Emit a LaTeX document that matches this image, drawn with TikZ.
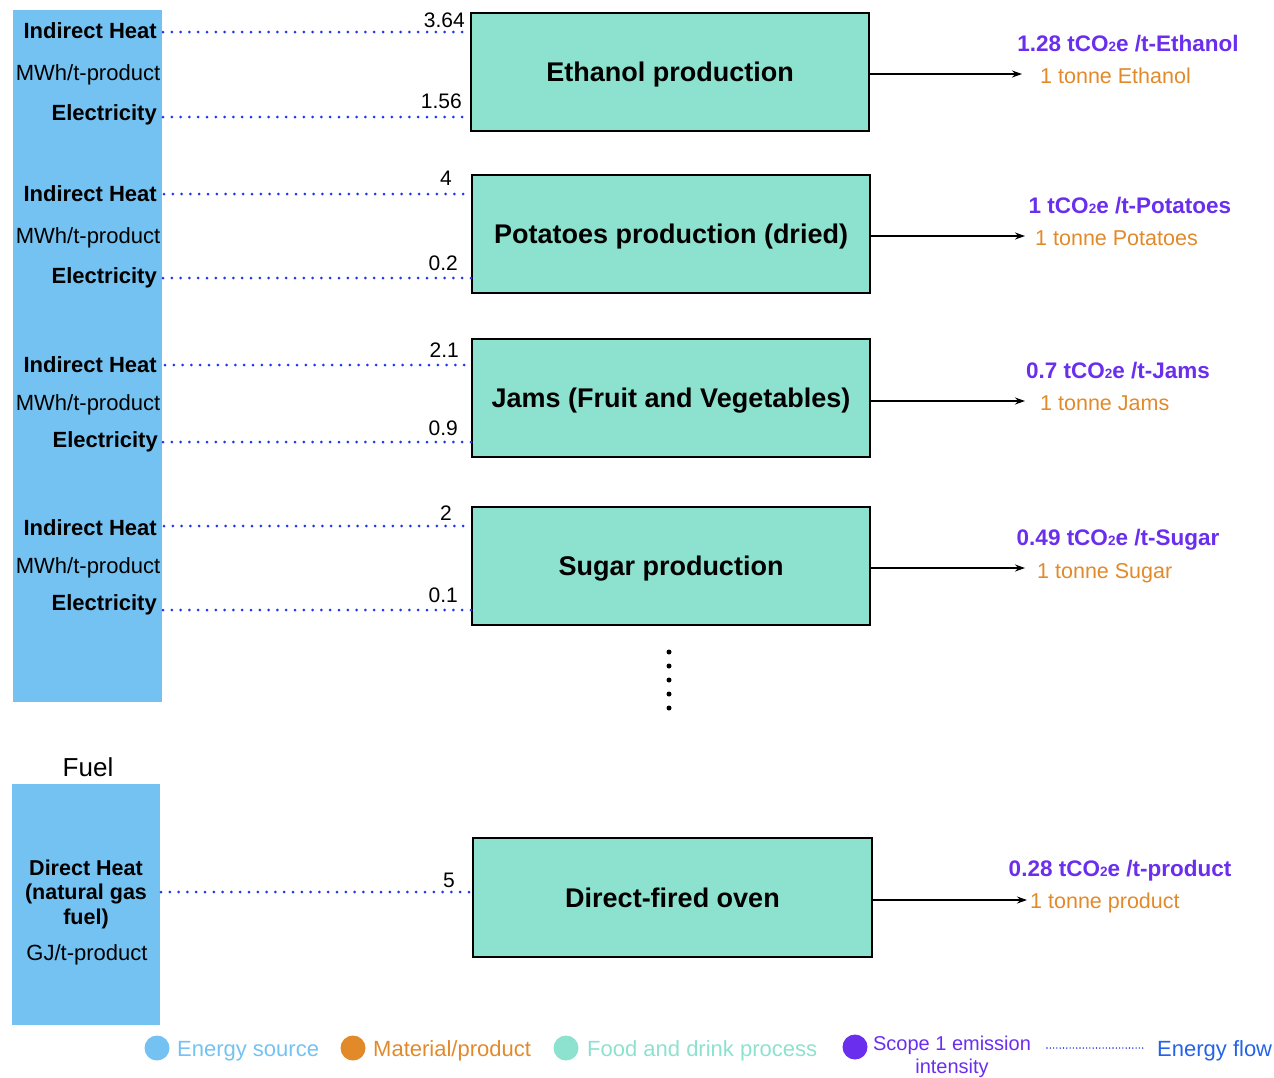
\documentclass[tikz,border=0pt]{standalone}
\usepackage{fontspec}
\setmainfont{Liberation Sans}
\usetikzlibrary{arrows.meta}
\definecolor{srcblue}{HTML}{74C2F2}
\definecolor{proc}{HTML}{8DE1CF}
\definecolor{purp}{HTML}{6A2EEE}
\definecolor{orng}{HTML}{E2892A}
\definecolor{flowblue}{HTML}{1F35F0}
\definecolor{legblue}{HTML}{2563E6}
\newcommand{\fsz}[2]{\fontsize{#1}{#2}\selectfont}
\newcommand{\cotwo}{CO{\fontsize{13.5}{13.5}\selectfont 2}e}
\begin{document}
\begin{tikzpicture}[x=1pt,y=-1pt,
 srcbox/.style={fill=srcblue, draw=none, inner sep=0pt},
 procbox/.style={draw=black, line width=1.4pt, fill=proc, minimum width=398pt, minimum height=118pt, text depth=0pt, font=\fsz{27}{32}\bfseries},
 lbl/.style={anchor=base east, font=\fsz{22}{26}\bfseries, inner sep=0pt},
 unit/.style={anchor=base, font=\fsz{22}{26}, inner sep=0pt},
 num/.style={anchor=base east, font=\fsz{21}{25}, inner sep=0pt},
 flow/.style={flowblue, line width=3pt, line cap=round, dash pattern=on 0pt off 8.8pt},
 arr/.style={-{Stealth[length=10pt,width=7pt]}, line width=1.2pt},
 emis/.style={anchor=base, text=purp, font=\fsz{22.5}{27}\bfseries, inner sep=0pt},
 prod/.style={anchor=base west, text=orng, font=\fsz{21.5}{26}, inner sep=0pt},
 legdot/.style={circle, minimum size=25pt, inner sep=0pt},
 legtxt/.style={anchor=base west, font=\fsz{22}{26}, inner sep=0pt},
 vdot/.style={circle, fill=black, minimum size=5pt, inner sep=0pt},
]
\useasboundingbox (0,0) rectangle (1274,1077);

% energy source panels
\node[srcbox, minimum width=149pt, minimum height=692pt] (src) at (87.5,356) {};
\node[srcbox, minimum width=148pt, minimum height=241pt] (fuelbox) at (86,904.5) {};
\node[font=\fsz{26}{31}, inner sep=0pt] (fuel) at (88,767) {Fuel};

% process boxes
\node[procbox] (p1) at (670,72) {Ethanol production};
\node[procbox] (p2) at (671,234) {Potatoes production (dried)};
\node[procbox] (p3) at (671,398) {Jams (Fruit and Vegetables)};
\node[procbox] (p4) at (671,566) {Sugar production};
\node[procbox, minimum width=399pt, minimum height=119pt] (p5) at (672.5,897.5) {Direct-fired oven};

% left labels
\node[lbl] (ih1) at (157,38) {Indirect Heat};
\node[unit] (u1) at (88,80) {MWh/t-product};
\node[lbl] (el1) at (157,120) {Electricity};
\node[lbl] (ih2) at (157,201) {Indirect Heat};
\node[unit] (u2) at (88,243) {MWh/t-product};
\node[lbl] (el2) at (157,283) {Electricity};
\node[lbl] (ih3) at (157,372) {Indirect Heat};
\node[unit] (u3) at (88,410) {MWh/t-product};
\node[lbl] (el3) at (158,447) {Electricity};
\node[lbl] (ih4) at (157,535) {Indirect Heat};
\node[unit] (u4) at (88,573) {MWh/t-product};
\node[lbl] (el4) at (157,610) {Electricity};

\node[align=center, font=\fsz{21.5}{24.5}\bfseries, inner sep=0pt] (dh) at (86,894) {Direct Heat\\(natural gas\\fuel)};
\node[unit] (u5) at (87,960) {GJ/t-product};

% energy flows
\coordinate (h1) at (163,32);
\coordinate (e1) at (163,117);
\coordinate (h2) at (164,194);
\coordinate (e2) at (163,278);
\coordinate (h3) at (165,365);
\coordinate (e3) at (163,442);
\coordinate (h4) at (164,526);
\coordinate (e4) at (163,610);
\coordinate (h5) at (161,892);
\draw[flow] (h1) -- (h1 -| p1.west);
\draw[flow] (e1) -- (e1 -| p1.west);
\draw[flow] (h2) -- (h2 -| p2.west);
\draw[flow] (e2) -- (e2 -| p2.west);
\draw[flow] (h3) -- (h3 -| p3.west);
\draw[flow] (e3) -- (e3 -| p3.west);
\draw[flow] (h4) -- (h4 -| p4.west);
\draw[flow] (e4) -- (e4 -| p4.west);
\draw[flow] (h5) -- (h5 -| p5.west);

% values
\node[num] (n1) at (465,27) {3.64};
\node[num] (n2) at (462,108) {1.56};
\node[num] (n3) at (452,185) {4};
\node[num] (n4) at (458,270) {0.2};
\node[num] (n5) at (459,357) {2.1};
\node[num] (n6) at (458,435) {0.9};
\node[num] (n7) at (452,520) {2};
\node[num] (n8) at (458,602) {0.1};
\node[num] (n9) at (455,887) {5};

% outputs
\coordinate (o1) at (1022,74);
\coordinate (o2) at (1025,236);
\coordinate (o3) at (1025,401);
\coordinate (o4) at (1025,568);
\coordinate (o5) at (1027,900);
\draw[arr] (o1 -| p1.east) -- (o1);
\draw[arr] (o2 -| p2.east) -- (o2);
\draw[arr] (o3 -| p3.east) -- (o3);
\draw[arr] (o4 -| p4.east) -- (o4);
\draw[arr] (o5 -| p5.east) -- (o5);

\node[emis] (m1) at (1128,51) {1.28 t\cotwo{} /t-Ethanol};
\node[prod] (t1) at (1040,83) {1 tonne Ethanol};
\node[emis] (m2) at (1130,213) {1 t\cotwo{} /t-Potatoes};
\node[prod] (t2) at (1035,245) {1 tonne Potatoes};
\node[emis] (m3) at (1118,378) {0.7 t\cotwo{} /t-Jams};
\node[prod] (t3) at (1040,410) {1 tonne Jams};
\node[emis] (m4) at (1118,545) {0.49 t\cotwo{} /t-Sugar};
\node[prod] (t4) at (1037,578) {1 tonne Sugar};
\node[emis] (m5) at (1120,876) {0.28 t\cotwo{} /t-product};
\node[prod] (t5) at (1030,908) {1 tonne product};

% ellipsis
\node[vdot] (d1) at (669,652) {};
\node[vdot] (d2) at (669,666) {};
\node[vdot] (d3) at (669,680) {};
\node[vdot] (d4) at (669,694) {};
\node[vdot] (d5) at (669,708) {};

% legend
\node[legdot, fill=srcblue] (lg1) at (157,1048) {};
\node[legtxt, text=srcblue] (lt1) at (177,1056) {Energy source};
\node[legdot, fill=orng] (lg2) at (353,1048) {};
\node[legtxt, text=orng] (lt2) at (373,1056) {Material/product};
\node[legdot, fill=proc] (lg3) at (566,1048) {};
\node[legtxt, text=proc] (lt3) at (587,1056) {Food and drink process};
\node[legdot, fill=purp] (lg4) at (855,1047) {};
\node[align=center, text=purp, font=\fsz{20}{23.5}, inner sep=0pt] (lt4) at (952,1057) {Scope 1 emission\\intensity};
\coordinate (lf1) at (1047,1048);
\coordinate (lf2) at (1145,1048);
\draw[flowblue, line width=1.6pt, line cap=round, dash pattern=on 0pt off 3.3pt] (lf1) -- (lf2);
\node[legtxt, text=legblue] (lt5) at (1157,1056) {Energy flow};
\end{tikzpicture}
\end{document}
